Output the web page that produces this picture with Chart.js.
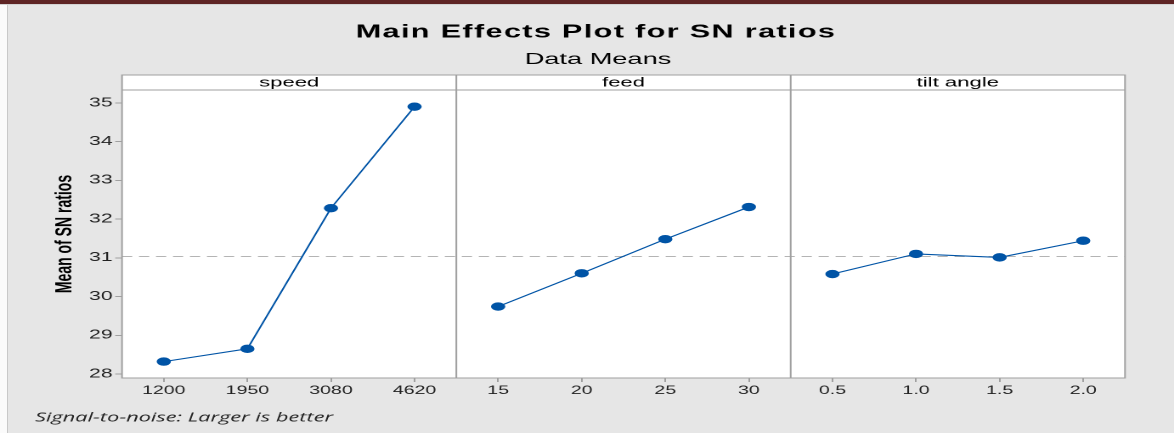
<!DOCTYPE html>
<html>
<head>
<meta charset="utf-8">
<title>Main Effects Plot for SN ratios</title>
<script src="https://cdn.jsdelivr.net/npm/chart.js@4/dist/chart.umd.min.js"></script>
<style>
    html, body { margin: 0; padding: 0; background: #ffffff; }
    #frame { position: relative; width: 1174px; height: 433px; overflow: hidden; background: #e6e6e6; }
    #frame .topbar { position: absolute; left: 0; top: 0; width: 100%; height: 4px; background: #5e2424; border-bottom: 1px solid #d2d2d2; }
    #frame .edge { position: absolute; left: 0; top: 5px; width: 7px; height: 428px; background: #fbfbfb; border-right: 1px solid #c9c9c9; }
    #chart { position: absolute; left: 0; top: 0; transform-origin: 0 0; }
</style>
</head>
<body>
<div id="frame">
    <div class="topbar"></div>
    <div class="edge"></div>
    <canvas id="chart"></canvas>
</div>
<script>
"use strict";

// DATA (mean of SN ratios per factor level)
const FACTORS = ["speed", "feed", "tilt angle"];
const SPEED_LEVELS = ["1200", "1950", "3080", "4620"];
const FEED_LEVELS = ["15", "20", "25", "30"];
const TILT_LEVELS = ["0.5", "1.0", "1.5", "2.0"];
const SPEED_SN = [28.32, 28.65, 32.28, 34.90];
const FEED_SN = [29.74, 30.60, 31.48, 32.31];
const TILT_SN = [30.58, 31.10, 31.01, 31.44];
const Y_TICKS = [28, 29, 30, 31, 32, 33, 34, 35];

// The source picture is stretched sideways: draw narrow, then widen the canvas.
const WIDTH = 1174;
const HEIGHT = 433;
const STRETCH = 1.7;
const CANVAS_W = Math.round(WIDTH / STRETCH);
const SX = WIDTH / CANVAS_W;

// page positions (in picture pixels)
const PLOT_LEFT = 122;
const PLOT_RIGHT = 1125;
const HEADER_TOP = 75;
const PLOT_TOP = 90;
const PLOT_BOTTOM = 378;

const LINE_COLOR = "#0054a6";
const FRAME_COLOR = "#a0a0a0";

const levels = [SPEED_LEVELS, FEED_LEVELS, TILT_LEVELS];
const means = [SPEED_SN, FEED_SN, TILT_SN];
const labels = levels.flat();
const allValues = means.flat();
const grandMean = allValues.reduce((a, b) => a + b, 0) / allValues.length;

function buildDatasets() {
    let start = 0;
    return means.map((values, i) => {
        const data = new Array(labels.length).fill(null);
        values.forEach((v, j) => {
            data[start + j] = v;
        });
        start += levels[i].length;
        return {
            label: FACTORS[i],
            data,
            borderColor: LINE_COLOR,
            borderWidth: 1.1,
            pointRadius: 3.7,
            pointBackgroundColor: LINE_COLOR,
            pointBorderColor: LINE_COLOR,
            pointBorderWidth: 1,
            tension: 0
        };
    });
}

// Panel frames, header strip, mean line and page texts
const panelsPlugin = {
    id: "panels",
    beforeDraw(chart) {
        const { ctx, chartArea: a } = chart;
        ctx.save();
        ctx.fillStyle = "#ffffff";
        ctx.fillRect(a.left, HEADER_TOP, a.right - a.left, a.bottom - HEADER_TOP);
        ctx.restore();
    },
    beforeDatasetsDraw(chart) {
        const { ctx, chartArea: a } = chart;
        const y = chart.scales.y.getPixelForValue(grandMean);
        ctx.save();
        ctx.strokeStyle = "#b4b4b4";
        ctx.lineWidth = 1;
        ctx.setLineDash([6, 4]);
        ctx.beginPath();
        ctx.moveTo(a.left, y);
        ctx.lineTo(a.right, y);
        ctx.stroke();
        ctx.restore();
    },
    afterDraw(chart) {
        const { ctx, chartArea: a } = chart;
        const xs = chart.scales.x;

        // boundaries between panels
        const edges = [a.left];
        let idx = 0;
        for (let i = 0; i < levels.length - 1; i++) {
            idx += levels[i].length;
            edges.push((xs.getPixelForValue(idx - 1) + xs.getPixelForValue(idx)) / 2);
        }
        edges.push(a.right);

        ctx.save();
        ctx.strokeStyle = FRAME_COLOR;
        ctx.lineWidth = 1;
        ctx.strokeRect(a.left, HEADER_TOP, a.right - a.left, a.bottom - HEADER_TOP);
        ctx.beginPath();
        ctx.moveTo(a.left, a.top);
        ctx.lineTo(a.right, a.top);
        for (let i = 1; i < edges.length - 1; i++) {
            ctx.moveTo(edges[i], HEADER_TOP);
            ctx.lineTo(edges[i], a.bottom);
        }
        ctx.stroke();

        // header labels
        ctx.fillStyle = "#000000";
        ctx.font = "13px 'Liberation Sans', Arial, sans-serif";
        ctx.textAlign = "center";
        ctx.textBaseline = "middle";
        FACTORS.forEach((name, i) => {
            ctx.fillText(name, (edges[i] + edges[i + 1]) / 2, 83);
        });

        // titles
        ctx.textBaseline = "alphabetic";
        ctx.letterSpacing = "0.8px";
        ctx.font = "bold 18px 'Liberation Sans', Arial, sans-serif";
        ctx.fillText("Main Effects Plot for SN ratios", 596 / SX, 37.5);
        ctx.letterSpacing = "0px";
        ctx.font = "16px 'Liberation Sans', Arial, sans-serif";
        ctx.fillText("Data Means", 598 / SX, 64);

        // footer note, fitted to its width in the picture
        const note = "Signal-to-noise: Larger is better";
        ctx.font = "italic 13px 'Open Sans', sans-serif";
        ctx.fillStyle = "#222222";
        ctx.textAlign = "left";
        const w = ctx.measureText(note).width;
        ctx.translate(35 / SX, 421.5);
        ctx.scale((298 / SX) / w, 1);
        ctx.fillText(note, 0, 0);
        ctx.restore();
    }
};

document.addEventListener("DOMContentLoaded", () => {
    const canvas = document.getElementById("chart");
    canvas.width = CANVAS_W;
    canvas.height = HEIGHT;
    canvas.style.transform = `scale(${SX}, 1)`;

    const yPerUnit = (374 - 102.8) / 7;

    new Chart(canvas, {
        type: "line",
        data: { labels, datasets: buildDatasets() },
        plugins: [panelsPlugin],
        options: {
            responsive: false,
            animation: false,
            devicePixelRatio: 2,
            layout: {
                padding: { left: 0, right: CANVAS_W - PLOT_RIGHT / SX, top: PLOT_TOP, bottom: 30 }
            },
            plugins: {
                legend: { display: false },
                tooltip: { enabled: false }
            },
            scales: {
                x: {
                    type: "category",
                    offset: true,
                    afterFit: (scale) => { scale.height = HEIGHT - 30 - PLOT_BOTTOM; },
                    border: { display: false },
                    grid: { drawOnChartArea: false, offset: false, tickLength: 4, color: FRAME_COLOR },
                    ticks: {
                        autoSkip: false,
                        maxRotation: 0,
                        padding: 2,
                        color: "#222222",
                        font: { family: "'Liberation Sans', Arial, sans-serif", size: 11.5 }
                    }
                },
                y: {
                    type: "linear",
                    min: 28 - (PLOT_BOTTOM - 374) / yPerUnit,
                    max: 35 + (102.8 - PLOT_TOP) / yPerUnit,
                    afterFit: (scale) => { scale.width = PLOT_LEFT / SX; },
                    afterBuildTicks: (scale) => { scale.ticks = Y_TICKS.map((value) => ({ value })); },
                    border: { display: false },
                    grid: { drawOnChartArea: false, tickLength: 4, color: FRAME_COLOR },
                    ticks: {
                        padding: 1.5,
                        color: "#222222",
                        font: { family: "'Liberation Sans', Arial, sans-serif", size: 12.5 }
                    },
                    title: {
                        display: true,
                        text: "Mean of SN ratios",
                        color: "#000000",
                        padding: { top: 65 / SX - 8.4, bottom: 0 },
                        font: { family: "'Liberation Sans', Arial, sans-serif", size: 14, weight: "bold" }
                    }
                }
            }
        }
    });
});
</script>
</body>
</html>
